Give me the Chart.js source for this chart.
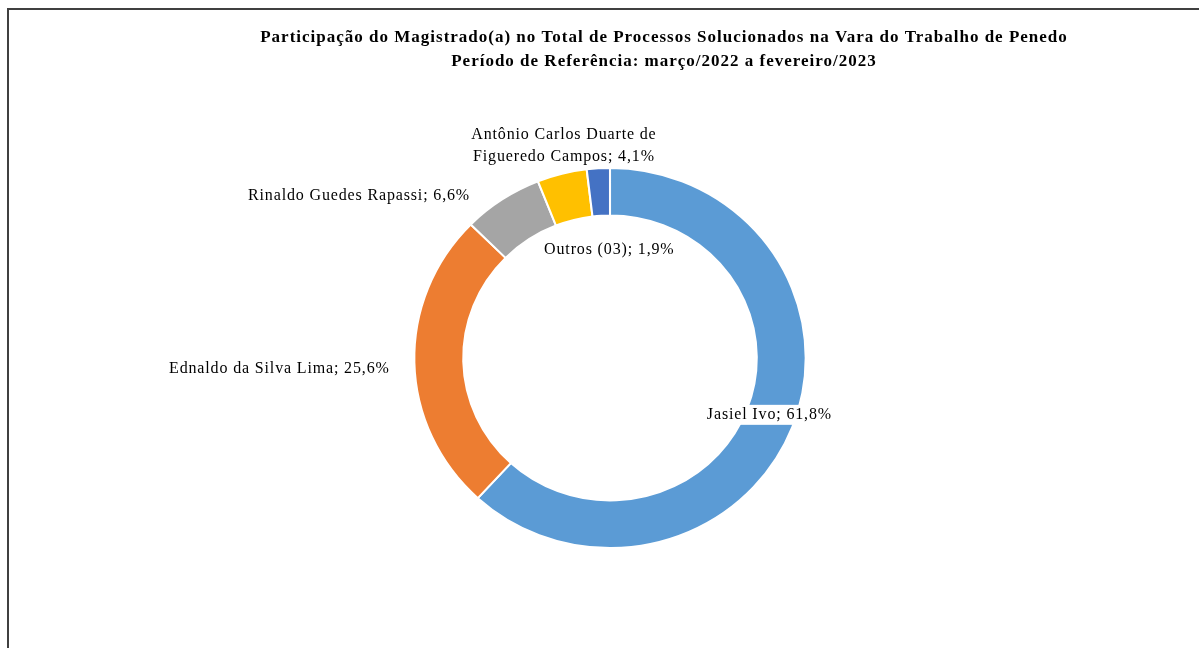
<!DOCTYPE html>
<html>
<head>
<meta charset="utf-8">
<style>
  html, body { margin: 0; padding: 0; background: #fff; overflow: hidden; }
  #wrap { width: 1199px; height: 648px; position: relative; }
</style>
</head>
<body>
<div id="wrap"><canvas id="chart" width="1199" height="648"></canvas></div>

<script src="https://cdn.jsdelivr.net/npm/chart.js"></script>
<script>
// data
const categories = ["Jasiel Ivo", "Ednaldo da Silva Lima", "Rinaldo Guedes Rapassi", "Antônio Carlos Duarte de Figueredo Campos", "Outros (03)"];
const shares = [61.8, 25.6, 6.6, 4.1, 1.9];
const labelLines = [
    ["Jasiel Ivo; 61,8%"],
    ["Ednaldo da Silva Lima; 25,6%"],
    ["Rinaldo Guedes Rapassi; 6,6%"],
    ["Antônio Carlos Duarte de", "Figueredo Campos; 4,1%"],
    ["Outros (03); 1,9%"]
];
const titleLines = [
    "Participação do Magistrado(a) no Total de Processos Solucionados na Vara do Trabalho de Penedo",
    "Período de Referência: março/2022 a fevereiro/2023"
];

// styles
const colors = ["#5B9BD5", "#ED7D31", "#A5A5A5", "#FFC000", "#4472C4"];
// label shift from the outer point of each slice's middle angle
const labelShift = [[-23, -12], [-135, 6], [-143, -4], [2, -28], [11, 81]];
const labelBackground = [true, false, false, false, false];

// the reference ring is a little wider than tall
const ringStretch = {
    id: "ringStretch",
    beforeDatasetsDraw(chart) {
        const ctx = chart.ctx;
        const cx = (chart.chartArea.left + chart.chartArea.right) / 2;
        ctx.save();
        ctx.translate(cx, 0);
        ctx.scale(1.03, 1);
        ctx.translate(-cx, 0);
    },
    afterDatasetsDraw(chart) {
        chart.ctx.restore();
    }
};

const frameAndText = {
    id: "frameAndText",
    afterDraw(chart) {
        const ctx = chart.ctx;
        ctx.save();
        // outer frame (only top and left visible)
        ctx.strokeStyle = "#404040";
        ctx.lineWidth = 2;
        ctx.strokeRect(8, 9, 1400, 900);

        // title
        ctx.fillStyle = "#000";
        ctx.textAlign = "center";
        ctx.textBaseline = "middle";
        ctx.font = "bold 17px 'Liberation Serif', 'Times New Roman', serif";
        ctx.letterSpacing = "1px";
        titleLines.forEach(function(t, i) {
            ctx.fillText(t, 664, 38 + i * 24);
        });

        // data labels
        ctx.font = "16px 'Liberation Serif', 'Times New Roman', serif";
        ctx.letterSpacing = "0.85px";
        const meta = chart.getDatasetMeta(0);
        meta.data.forEach(function(arc, i) {
            const p = arc.getProps(["x", "y", "startAngle", "endAngle", "outerRadius"], true);
            const mid = (p.startAngle + p.endAngle) / 2;
            const x = p.x + Math.cos(mid) * p.outerRadius * 1.03 + labelShift[i][0];
            const y = p.y + Math.sin(mid) * p.outerRadius + labelShift[i][1];
            const lines = labelLines[i];
            const lh = 22;
            const y0 = y - (lines.length - 1) * lh / 2;
            if (labelBackground[i]) {
                let w = 0;
                lines.forEach(function(l) { w = Math.max(w, ctx.measureText(l).width); });
                ctx.fillStyle = "#fff";
                ctx.fillRect(x - w / 2 - 3, y0 - 10, w + 6, lines.length * lh - 2);
            }
            ctx.fillStyle = "#000";
            lines.forEach(function(l, j) {
                ctx.fillText(l, x, y0 + j * lh);
            });
        });
        ctx.restore();
    }
};

new Chart(document.getElementById("chart"), {
    type: "doughnut",
    data: {
        labels: categories,
        datasets: [{
            data: shares,
            backgroundColor: colors,
            borderColor: "#fff",
            borderWidth: 2,
            cutout: "75%"
        }]
    },
    options: {
        responsive: false,
        animation: false,
        layout: { padding: { left: 221, right: 200, top: 167, bottom: 99 } },
        plugins: {
            legend: { display: false },
            title: { display: false },
            tooltip: { enabled: false }
        }
    },
    plugins: [ringStretch, frameAndText]
});
</script>
</body>
</html>
